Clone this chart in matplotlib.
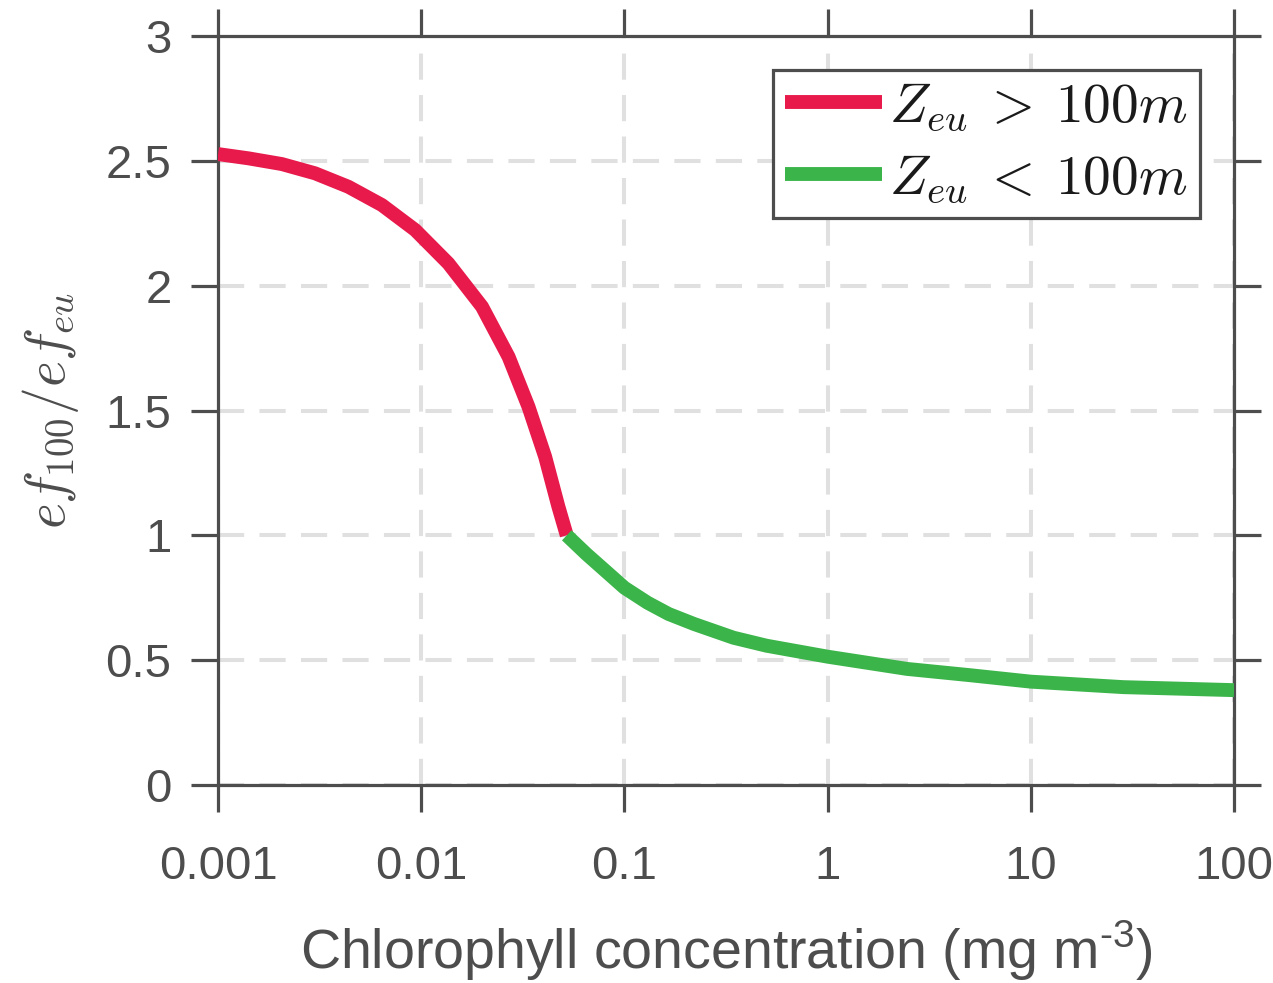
import numpy as np
import matplotlib.pyplot as plt

plt.rcParams['font.family'] = ['Liberation Sans', 'DejaVu Sans']
plt.rcParams['mathtext.fontset'] = 'custom'
plt.rcParams['mathtext.rm'] = 'Liberation Sans'

# values
chl_deep = [0.001, 0.00141, 0.00206, 0.0030, 0.00438, 0.0064, 0.00933, 0.0136,
            0.0199, 0.0269, 0.0337, 0.0407, 0.0473, 0.052]
ratio_deep = [2.527, 2.51, 2.487, 2.45, 2.396, 2.323, 2.223, 2.089,
              1.916, 1.715, 1.515, 1.315, 1.115, 1.00]

chl_shallow = [0.052, 0.065, 0.08, 0.1, 0.13, 0.165, 0.22, 0.344, 0.5,
               1, 2.46, 5, 10, 28.6, 100]
ratio_shallow = [1.00, 0.925, 0.86, 0.79, 0.73, 0.685, 0.645, 0.59, 0.558,
                 0.514, 0.465, 0.44, 0.414, 0.392, 0.38]

xticks = [0.001, 0.01, 0.1, 1, 10, 100]
xticklabels = ['0.001', '0.01', '0.1', '1', '10', '100']
yticks = [0, 0.5, 1, 1.5, 2, 2.5, 3]
yticklabels = ['0', '0.5', '1', '1.5', '2', '2.5', '3']

grey = '#4d4d4d'
red = '#e8194b'
green = '#3bb54a'

fig = plt.figure(figsize=(12.73, 9.83), dpi=100)
ax = fig.add_axes([0.1713, 0.2014, 0.7981, 0.762])

ax.plot(chl_deep, ratio_deep, color=red, lw=10, solid_capstyle='butt',
        solid_joinstyle='round', label=r'$Z_{eu}\:>\:100m$', zorder=3)
ax.plot(chl_shallow, ratio_shallow, color=green, lw=10, solid_capstyle='butt',
        solid_joinstyle='round', label=r'$Z_{eu}\:<\:100m$', zorder=3)

ax.set_xscale('log')
ax.set_xlim(0.001, 100)
ax.set_ylim(0, 3)
ax.set_xticks(xticks)
ax.set_xticklabels(xticklabels)
ax.set_yticks(yticks)
ax.set_yticklabels(yticklabels)
ax.minorticks_off()

ax.grid(True, color='#e0e0e0', lw=2.9, linestyle=(0, (6.5, 3.8)), zorder=0)
ax.set_axisbelow(True)

for s in ax.spines.values():
    s.set_color(grey)
    s.set_linewidth(2.3)

ax.tick_params(axis='both', which='major', direction='out', length=19.5, width=2.3,
               color=grey, labelcolor=grey, labelsize=34,
               top=True, right=True)
ax.tick_params(axis='x', pad=24)
ax.tick_params(axis='y', pad=14)

ax.set_xlabel(r'Chlorophyll concentration (mg m$^{\text{-3}}$)',
              fontsize=40, color=grey, labelpad=21)
ax.set_ylabel(r'$ef_{100}/ef_{eu}$', fontsize=40, color=grey, labelpad=18,
              math_fontfamily='cm')

leg = ax.legend(loc='upper right', bbox_to_anchor=(0.966, 0.955),
                prop={'size': 40, 'math_fontfamily': 'cm'},
                handlelength=1.75, handletextpad=0.12, borderpad=0.22,
                labelspacing=0.35, fancybox=False, framealpha=1,
                borderaxespad=0)
leg.get_frame().set_edgecolor(grey)
leg.get_frame().set_linewidth(2.3)
for t in leg.get_texts():
    t.set_color('#1a1a1a')

fig.savefig('out.png', dpi=100)
